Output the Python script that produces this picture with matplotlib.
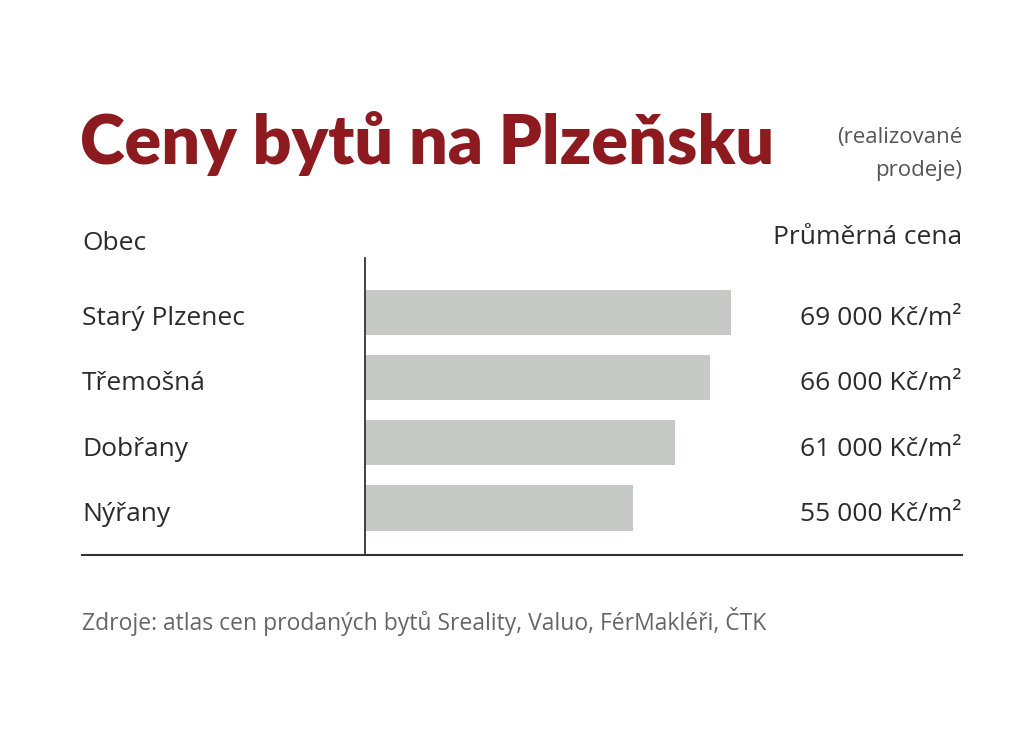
import matplotlib
matplotlib.use('Agg')
import matplotlib.pyplot as plt
from matplotlib.lines import Line2D
import matplotlib.transforms as mtransforms

# data
obce = ['Starý Plzenec', 'Třemošná', 'Dobřany', 'Nýřany']
ceny = [69000, 66000, 61000, 55000]
title = 'Ceny bytů na Plzeňsku'
subtitle = '(realizované\nprodeje)'
col_left = 'Obec'
col_right = 'Průměrná cena'
source = 'Zdroje: atlas cen prodaných bytů Sreality, Valuo, FérMakléři, ČTK'

W, H = 1024, 731
fig = plt.figure(figsize=(W / 100, H / 100), dpi=100)
fig.patch.set_facecolor('white')

def fx(px):
    return px / W

def fy(py):
    return 1 - py / H

txtfont = 'Open Sans'
red = '#8c1a1f'
dark = '#2b2b2b'

# axes placed in pixel box 365..962 x 258..555
ax = fig.add_axes([fx(365), fy(555), fx(962) - fx(365), (555 - 258) / H])
ypos = list(range(len(obce)))
ax.barh(ypos, ceny, height=0.69, color='#c6c9c6', zorder=2)
ax.set_ylim(3.72, -0.83)
# the original bars do not start at zero
ax.set_xlim(16700, 102000)
ax.set_xticks([])
ax.set_yticks([])
for s in ['top', 'right', 'bottom']:
    ax.spines[s].set_visible(False)
ax.spines['left'].set_color('#333333')
ax.spines['left'].set_linewidth(1.3)
ax.spines['left'].set_zorder(3)
ax.patch.set_alpha(0)

# value labels, right aligned at axes edge
trans = mtransforms.blended_transform_factory(ax.transAxes, ax.transData)
for i, v in enumerate(ceny):
    lab = '{:,}'.format(v).replace(',', ' ') + ' Kč/m²'
    ax.text(1.0, i + 0.1, lab, transform=trans, ha='right', va='center',
            fontsize=19, family=txtfont, color=dark)

# category labels on the left
trans2 = mtransforms.blended_transform_factory(fig.transFigure, ax.transData)
for i, name in enumerate(obce):
    ax.text(fx(82), i + 0.1, name, transform=trans2, ha='left', va='center',
            fontsize=19, family=txtfont, color=dark)

# bottom rule
fig.add_artist(Line2D([fx(82), fx(962)], [fy(555), fy(555)], color='#333333', lw=1.5))

# headers
fig.text(fx(82), fy(243), col_left, ha='left', va='center', fontsize=19,
         family=txtfont, color=dark)
fig.text(fx(962), fy(237), col_right, ha='right', va='center', fontsize=19,
         family=txtfont, color=dark)

# title
fig.text(fx(80), fy(143), title, ha='left', va='center', fontsize=49,
         family='Lato', weight='heavy', color=red)
fig.text(fx(962), fy(154), subtitle, ha='right', va='center', fontsize=16,
         family=txtfont, color='#555555', linespacing=1.75)

# source
fig.text(fx(82), fy(622), source, ha='left', va='center', fontsize=16.5,
         family=txtfont, color='#666666')

fig.savefig('out.png', dpi=100, facecolor='white')
